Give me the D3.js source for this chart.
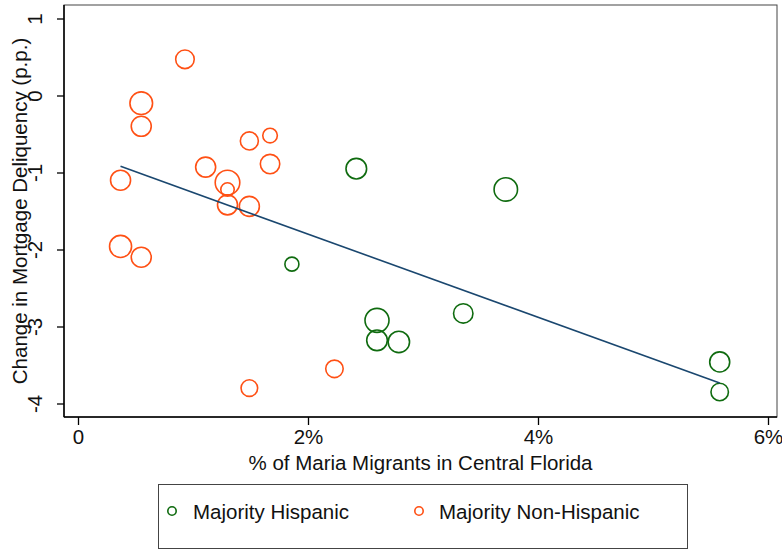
<!DOCTYPE html>
<html>
<head>
<meta charset="utf-8">
<script src="https://d3js.org/d3.v7.min.js"></script>
<style>
  body { margin: 0; background: #fff; }
  text { font-family: "Liberation Sans", Arial, sans-serif; fill: #111; }
</style>
</head>
<body>
<div id="chart"></div>
<script>
// majority Hispanic counties: x = % Maria migrants, y = change in delinquency (p.p.), w = weight
var hispX = [2.42, 3.72, 1.86, 2.60, 2.60, 2.79, 3.35, 5.58, 5.58];
var hispY = [-0.95, -1.22, -2.19, -2.92, -3.18, -3.20, -2.83, -3.46, -3.85];
var hispW = [106, 137, 49, 144, 106, 114, 94, 100, 76];

// majority non-Hispanic counties
var nonX = [0.93, 0.55, 0.55, 1.49, 1.67, 1.11, 1.67, 0.37, 1.30, 1.30, 1.30, 1.49, 0.37, 0.55, 2.23, 1.49];
var nonY = [0.47, -0.10, -0.40, -0.59, -0.52, -0.93, -0.89, -1.10, -1.13, -1.22, -1.42, -1.44, -1.96, -2.10, -3.55, -3.80];
var nonW = [86, 128, 100, 81, 53, 100, 94, 100, 151, 45, 100, 100, 121, 100, 76, 69];

// fitted line
var fitIntercept = -0.72;
var fitSlope = -0.54;

var xTicks = [0, 2, 4, 6];
var yTicks = [1, 0, -1, -2, -3, -4];
var legendLabels = ["Majority Hispanic", "Majority Non-Hispanic"];

var colors = { hisp: "#0f6b0f", non: "#ff5014", fit: "#1a476f" };
var fontSize = "20.5px";

var width = 782, height = 550;
var margin = { top: 5, right: 5, bottom: 133, left: 64 };
var plotW = width - margin.left - margin.right,
    plotH = height - margin.top - margin.bottom;

var svg = d3.select("#chart").append("svg")
    .attr("width", width)
    .attr("height", height);

var x = d3.scaleLinear().domain([0, 6]).range([78 - margin.left, 768 - margin.left]);
var y = d3.scaleLinear().domain([-4, 1]).range([403.5 - margin.top, 18.5 - margin.top]);
var r = d3.scaleSqrt().domain([0, 151]).range([0, 12.3]);

var g = svg.append("g")
    .attr("transform", "translate(" + margin.left + "," + margin.top + ")");

// plot region border
g.append("rect")
    .attr("x", 0).attr("y", 0)
    .attr("width", plotW).attr("height", plotH)
    .attr("fill", "none")
    .attr("stroke", "#444")
    .attr("stroke-width", 1);

// x axis
var xAxis = g.append("g")
    .attr("transform", "translate(0," + plotH + ")")
    .call(d3.axisBottom(x).tickValues(xTicks).tickSize(8).tickPadding(4)
        .tickFormat(function (d) { return d === 0 ? "0" : d + "%"; }));
xAxis.select(".domain").remove();
xAxis.selectAll("line").attr("stroke", "#000").attr("stroke-width", 1.3);
xAxis.selectAll("text").style("font-size", fontSize).attr("fill", "#111");

// y axis, labels rotated like stata
var yAxis = g.append("g")
    .call(d3.axisLeft(y).tickValues(yTicks).tickSize(7)
        .tickFormat(function (d) { return String(d); }));
yAxis.select(".domain").remove();
yAxis.selectAll("line").attr("stroke", "#000").attr("stroke-width", 1.3);
yAxis.selectAll("text")
    .style("font-size", fontSize)
    .attr("fill", "#111")
    .attr("x", null).attr("dy", null)
    .attr("text-anchor", "middle")
    .attr("transform", "translate(-22,0) rotate(-90)");

// axis lines
g.append("line").attr("x1", 0).attr("x2", 0).attr("y1", 0).attr("y2", plotH)
    .attr("stroke", "#000").attr("stroke-width", 1.5);
g.append("line").attr("x1", 0).attr("x2", plotW).attr("y1", plotH).attr("y2", plotH)
    .attr("stroke", "#000").attr("stroke-width", 1.5);

// points
var hisp = hispX.map(function (v, i) { return { x: v, y: hispY[i], w: hispW[i] }; });
var non = nonX.map(function (v, i) { return { x: v, y: nonY[i], w: nonW[i] }; });

g.selectAll(".hisp")
    .data(hisp)
    .enter().append("circle")
    .attr("class", "hisp")
    .attr("cx", function (d) { return x(d.x); })
    .attr("cy", function (d) { return y(d.y); })
    .attr("r", function (d) { return r(d.w); })
    .attr("fill", "none")
    .attr("stroke", colors.hisp)
    .attr("stroke-width", 1.6);

g.selectAll(".non")
    .data(non)
    .enter().append("circle")
    .attr("class", "non")
    .attr("cx", function (d) { return x(d.x); })
    .attr("cy", function (d) { return y(d.y); })
    .attr("r", function (d) { return r(d.w); })
    .attr("fill", "none")
    .attr("stroke", colors.non)
    .attr("stroke-width", 1.6);

// fitted line over the range of the data
var allX = hispX.concat(nonX);
var fitPts = d3.extent(allX).map(function (v) { return { x: v, y: fitIntercept + fitSlope * v }; });
g.append("path")
    .datum(fitPts)
    .attr("fill", "none")
    .attr("stroke", colors.fit)
    .attr("stroke-width", 1.6)
    .attr("d", d3.line().x(function (d) { return x(d.x); }).y(function (d) { return y(d.y); }));

// axis titles
svg.append("text")
    .attr("x", margin.left + plotW / 2)
    .attr("y", 470)
    .attr("text-anchor", "middle")
    .style("font-size", fontSize)
    .text("% of Maria Migrants in Central Florida");

svg.append("text")
    .attr("transform", "translate(27," + (margin.top + plotH / 2) + ") rotate(-90)")
    .attr("text-anchor", "middle")
    .style("font-size", fontSize)
    .text("Change in Mortgage Deliquency (p.p.)");

// legend
var leg = svg.append("g");
leg.append("rect")
    .attr("x", 158.5).attr("y", 484.5)
    .attr("width", 529).attr("height", 64)
    .attr("fill", "#fff")
    .attr("stroke", "#444")
    .attr("stroke-width", 1);

var legItems = [
    { label: legendLabels[0], color: colors.hisp, cx: 172, tx: 193 },
    { label: legendLabels[1], color: colors.non, cx: 419, tx: 439 }
];
legItems.forEach(function (d) {
    leg.append("circle")
        .attr("cx", d.cx).attr("cy", 511)
        .attr("r", 4.2)
        .attr("fill", "none")
        .attr("stroke", d.color)
        .attr("stroke-width", 1.6);
    leg.append("text")
        .attr("x", d.tx).attr("y", 519)
        .style("font-size", fontSize)
        .text(d.label);
});
</script>
</body>
</html>
